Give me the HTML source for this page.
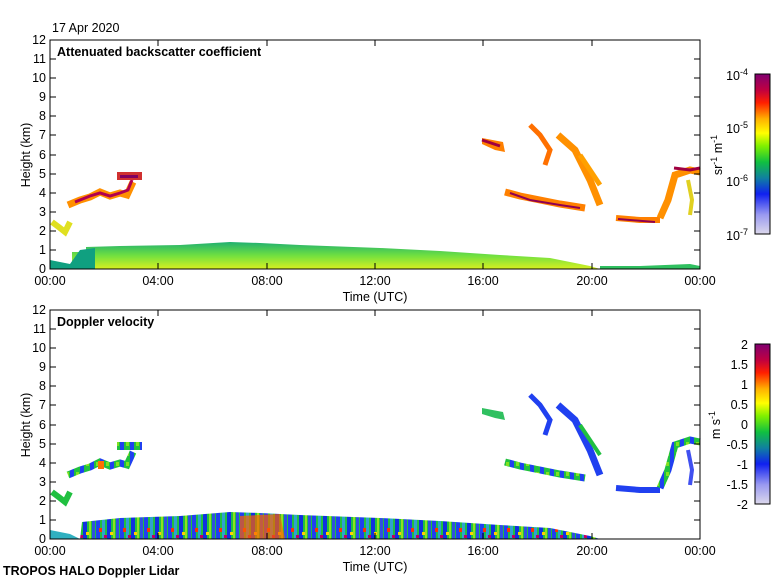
<!DOCTYPE html>
<html><head><meta charset="utf-8"><style>
html,body{margin:0;padding:0;background:#fff;}
svg text{font-family:"Liberation Sans",sans-serif;font-size:12.5px;fill:#000;}
</style></head><body>
<svg width="780" height="580" xmlns="http://www.w3.org/2000/svg">
<defs>
<linearGradient id="cmap" x1="0" y1="1" x2="0" y2="0">
<stop offset="0" stop-color="#dcd8ec"/><stop offset="0.12" stop-color="#9a9af0"/>
<stop offset="0.25" stop-color="#1020f0"/><stop offset="0.35" stop-color="#1080a0"/>
<stop offset="0.45" stop-color="#10c040"/><stop offset="0.55" stop-color="#80f000"/>
<stop offset="0.63" stop-color="#ffff00"/><stop offset="0.72" stop-color="#ffb000"/>
<stop offset="0.82" stop-color="#ff2000"/><stop offset="0.9" stop-color="#c00040"/>
<stop offset="1" stop-color="#800070"/>
</linearGradient>
<linearGradient id="bl" x1="0" y1="1" x2="0" y2="0">
<stop offset="0" stop-color="#d8f020"/><stop offset="0.5" stop-color="#70e040"/><stop offset="1" stop-color="#20b070"/>
</linearGradient>
<pattern id="dv" width="24" height="30" patternUnits="userSpaceOnUse">
<rect width="24" height="30" fill="#20c040"/>
<rect x="0" width="4" height="30" fill="#2040f0"/>
<rect x="6" width="3" height="30" fill="#30a0d0"/>
<rect x="11" width="4" height="30" fill="#1030e0"/>
<rect x="17" width="2" height="30" fill="#90e020"/>
<rect x="20" width="3" height="30" fill="#3050e0"/>
<rect x="3" y="18" width="3" height="4" fill="#ff3000"/>
<rect x="14" y="22" width="3" height="3" fill="#ffd000"/>
<rect x="8" y="25" width="3" height="3" fill="#c00060"/>
</pattern>
<pattern id="dc" width="10" height="10" patternUnits="userSpaceOnUse">
<rect width="10" height="10" fill="#20c040"/>
<rect width="4" height="10" fill="#2040f0"/>
<rect x="6" y="2" width="3" height="4" fill="#80e020"/>
</pattern>
</defs>

<text x="52" y="32">17 Apr 2020</text>

<!-- TOP PANEL -->
<g>
<polygon fill="url(#bl)" points="72,269 72,252 86,252 86,247 120,246 180,245 230,242 260,243 300,245 380,248 440,251 500,255 550,258 590,266 600,269"/>
<polygon fill="#10a080" points="50,269 50,260 60,262 70,264 80,250 95,248 95,269"/>
<polygon fill="#30c060" points="600,269 600,266 640,266 690,264 700,266 700,269"/>
<polyline fill="none" stroke="#e0e020" stroke-width="6" points="52,222 60,228 65,232 70,222"/>
<polyline fill="none" stroke="#ff9000" stroke-width="7" points="68,205 80,200 90,197 100,192 110,196 120,193 127,195 133,182"/>
<polyline fill="none" stroke="#b00050" stroke-width="3" points="75,202 90,196 100,193 110,196 120,193 128,190 132,180"/>
<rect x="117" y="172" width="25" height="8" fill="#d03030"/>
<rect x="120" y="175" width="18" height="3" fill="#800060"/>
<polygon fill="#ff8000" points="482,138 503,142 505,152 495,150 482,144"/>
<polyline fill="none" stroke="#a00040" stroke-width="3" points="482,140 500,146"/>
<polyline fill="none" stroke="#ff8000" stroke-width="7" points="505,192 520,196 540,200 560,204 585,208"/>
<polyline fill="none" stroke="#900050" stroke-width="2" points="510,193 530,200 560,205 580,208"/>
<polyline fill="none" stroke="#ff7000" stroke-width="5" points="530,125 540,135 550,150 545,165"/>
<polyline fill="none" stroke="#ff9000" stroke-width="7" points="558,135 575,150 590,180 600,205"/>
<polyline fill="none" stroke="#ffa000" stroke-width="5" points="580,155 590,170 600,185"/>
<polyline fill="none" stroke="#ff8000" stroke-width="6" points="616,218 640,220 660,220"/>
<polyline fill="none" stroke="#900050" stroke-width="2" points="618,219 655,222"/>
<polyline fill="none" stroke="#ff9000" stroke-width="7" points="660,218 668,200 675,175 690,170 700,172"/>
<polyline fill="none" stroke="#a00040" stroke-width="3" points="674,168 690,170 700,168"/>
<polyline fill="none" stroke="#e0d020" stroke-width="4" points="688,180 692,200 690,215"/>
</g>
<rect x="50" y="40" width="650" height="229" stroke="#000" fill="none"/>
<g stroke="#000">
<path d="M50 250h6M50 231h6M50 212h6M50 193h6M50 174h6M50 155h6M50 135h6M50 116h6M50 97h6M50 78h6M50 59h6M694 250h6M694 231h6M694 212h6M694 193h6M694 174h6M694 155h6M694 135h6M694 116h6M694 97h6M694 78h6M694 59h6M158 269v-6M267 269v-6M375 269v-6M483 269v-6M592 269v-6M158 40v6M267 40v6M375 40v6M483 40v6M592 40v6"/>
</g>
<g text-anchor="end">
<text x="46" y="273">0</text><text x="46" y="254">1</text><text x="46" y="235">2</text><text x="46" y="216">3</text><text x="46" y="197">4</text><text x="46" y="178">5</text><text x="46" y="159">6</text><text x="46" y="139">7</text><text x="46" y="120">8</text><text x="46" y="101">9</text><text x="46" y="82">10</text><text x="46" y="63">11</text><text x="46" y="44">12</text>
</g>
<g text-anchor="middle">
<text x="50" y="285">00:00</text><text x="158" y="285">04:00</text><text x="267" y="285">08:00</text><text x="375" y="285">12:00</text><text x="483" y="285">16:00</text><text x="592" y="285">20:00</text><text x="700" y="285">00:00</text>
<text x="375" y="301">Time (UTC)</text>
</g>
<text transform="translate(30,155) rotate(-90)" text-anchor="middle">Height (km)</text>
<text x="57" y="56" style="font-weight:bold">Attenuated backscatter coefficient</text>
<rect x="755" y="74" width="15" height="160" fill="url(#cmap)" stroke="#000"/>
<g text-anchor="end">
<text x="748" y="80">10<tspan dy="-5" font-size="9">-4</tspan></text>
<text x="748" y="133">10<tspan dy="-5" font-size="9">-5</tspan></text>
<text x="748" y="186">10<tspan dy="-5" font-size="9">-6</tspan></text>
<text x="748" y="240">10<tspan dy="-5" font-size="9">-7</tspan></text>
</g>
<text transform="translate(722,155) rotate(-90)" text-anchor="middle">sr<tspan dy="-5" font-size="9">-1</tspan><tspan dy="5"> m</tspan><tspan dy="-5" font-size="9">-1</tspan></text>

<!-- BOTTOM PANEL -->
<g>
<polygon fill="url(#dv)" points="80,539 82,522 120,518 180,516 230,512 260,513 300,515 380,518 440,521 500,525 550,528 590,536 600,539"/>
<polygon fill="#ff6000" opacity="0.7" points="240,539 240,516 280,514 285,539"/>
<polygon fill="#30b0c0" points="50,539 50,530 60,532 70,534 80,539"/>
<polyline fill="none" stroke="#20c040" stroke-width="6" points="52,492 60,498 65,502 70,492"/>
<polyline fill="none" stroke="url(#dc)" stroke-width="7" points="68,475 80,470 90,467 100,462 110,466 120,463 127,465 133,452"/>
<rect x="98" y="461" width="6" height="8" fill="#ff7000"/>
<rect x="117" y="442" width="25" height="8" fill="url(#dc)"/>
<polygon fill="#30c060" points="482,408 503,412 505,420 495,418 482,414"/>
<polyline fill="none" stroke="url(#dc)" stroke-width="7" points="505,462 520,466 540,470 560,474 585,478"/>
<polyline fill="none" stroke="#2040f0" stroke-width="5" points="530,395 540,405 550,420 545,435"/>
<polyline fill="none" stroke="#2040f0" stroke-width="7" points="558,405 575,420 590,450 600,475"/>
<polyline fill="none" stroke="#20c040" stroke-width="4" points="580,425 590,440 600,455"/>
<polyline fill="none" stroke="#2040f0" stroke-width="6" points="616,488 640,490 660,490"/>
<polyline fill="none" stroke="url(#dc)" stroke-width="7" points="660,488 668,470 675,445 690,440 700,442"/>
<polyline fill="none" stroke="#4050f0" stroke-width="4" points="688,450 692,470 690,485"/>
</g>
<rect x="50" y="310" width="650" height="229" stroke="#000" fill="none"/>
<g stroke="#000" transform="translate(0,270)">
<path d="M50 250h6M50 231h6M50 212h6M50 193h6M50 174h6M50 155h6M50 135h6M50 116h6M50 97h6M50 78h6M50 59h6M694 250h6M694 231h6M694 212h6M694 193h6M694 174h6M694 155h6M694 135h6M694 116h6M694 97h6M694 78h6M694 59h6M158 269v-6M267 269v-6M375 269v-6M483 269v-6M592 269v-6M158 40v6M267 40v6M375 40v6M483 40v6M592 40v6"/>
</g>
<g text-anchor="end" transform="translate(0,270)">
<text x="46" y="273">0</text><text x="46" y="254">1</text><text x="46" y="235">2</text><text x="46" y="216">3</text><text x="46" y="197">4</text><text x="46" y="178">5</text><text x="46" y="159">6</text><text x="46" y="139">7</text><text x="46" y="120">8</text><text x="46" y="101">9</text><text x="46" y="82">10</text><text x="46" y="63">11</text><text x="46" y="44">12</text>
</g>
<g text-anchor="middle">
<text x="50" y="555">00:00</text><text x="158" y="555">04:00</text><text x="267" y="555">08:00</text><text x="375" y="555">12:00</text><text x="483" y="555">16:00</text><text x="592" y="555">20:00</text><text x="700" y="555">00:00</text>
<text x="375" y="571">Time (UTC)</text>
</g>
<text transform="translate(30,425) rotate(-90)" text-anchor="middle">Height (km)</text>
<text x="57" y="326" style="font-weight:bold">Doppler velocity</text>
<rect x="755" y="344" width="15" height="160" fill="url(#cmap)" stroke="#000"/>
<g text-anchor="end">
<text x="748" y="349">2</text><text x="748" y="369">1.5</text><text x="748" y="389">1</text><text x="748" y="409">0.5</text><text x="748" y="429">0</text><text x="748" y="449">-0.5</text><text x="748" y="469">-1</text><text x="748" y="489">-1.5</text><text x="748" y="509">-2</text>
</g>
<text transform="translate(720,425) rotate(-90)" text-anchor="middle">m s<tspan dy="-5" font-size="9">-1</tspan></text>
<text x="3" y="575" style="font-weight:bold">TROPOS HALO Doppler Lidar</text>
</svg>
</body></html>
